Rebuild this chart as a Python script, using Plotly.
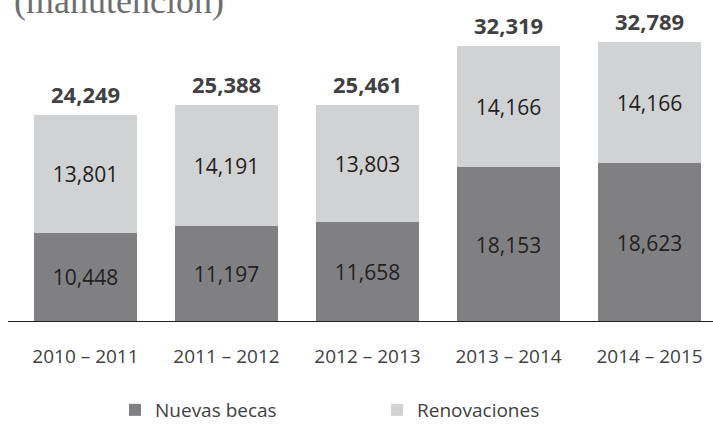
import plotly.graph_objects as go

# Ciclos escolares y becas otorgadas
ciclos = ["2010 – 2011", "2011 – 2012", "2012 – 2013", "2013 – 2014", "2014 – 2015"]
nuevas_becas = [10448, 11197, 11658, 18153, 18623]
renovaciones = [13801, 14191, 13803, 14166, 14166]
totales = [24249, 25388, 25461, 32319, 32789]

color_nuevas = "#808083"
color_renov = "#d1d2d4"
color_texto = "#231f20"
fuente = "Open Sans"

fig = go.Figure()

fig.add_trace(go.Bar(
    x=ciclos, y=nuevas_becas, name="Nuevas becas",
    marker=dict(color=color_nuevas, line=dict(width=0)),
    text=[f"{v:,}" for v in nuevas_becas], textposition="inside",
    insidetextanchor="middle",
    textfont=dict(family=fuente, size=21, color=color_texto),
))
fig.add_trace(go.Bar(
    x=ciclos, y=renovaciones, name="Renovaciones",
    marker=dict(color=color_renov, line=dict(width=0)),
    text=[f"{v:,}" for v in renovaciones], textposition="inside",
    insidetextanchor="middle",
    textfont=dict(family=fuente, size=21, color=color_texto),
))

# Totales sobre cada barra
for c, t in zip(ciclos, totales):
    fig.add_annotation(
        x=c, y=t, text=f"<b>{t:,}</b>", showarrow=False,
        yanchor="bottom", yshift=4,
        font=dict(family=fuente, size=22, color="#414042"),
    )

# Título (parcialmente visible en la parte superior)
fig.add_annotation(
    xref="paper", yref="paper", x=12 / 713, y=1 - 23 / 322,
    xanchor="left", yanchor="bottom", text="(manutención)", showarrow=False,
    font=dict(family="Liberation Serif", size=36, color="#6d6e71"),
)

# Línea base
fig.add_shape(
    type="line", xref="paper", yref="y", x0=8 / 713, x1=1, y0=0, y1=0,
    line=dict(color=color_texto, width=2),
)

fig.update_layout(
    width=713, height=428,
    margin=dict(l=0, r=0, t=0, b=106, autoexpand=False),
    barmode="stack", bargap=0.27,
    plot_bgcolor="white", paper_bgcolor="white",
    uniformtext=dict(minsize=21, mode="show"),
    showlegend=True,
    legend=dict(
        orientation="h", x=115 / 713, xanchor="left", y=-88 / 322, yanchor="middle",
        font=dict(family=fuente, size=19, color="#414042"),
        entrywidth=217, entrywidthmode="pixels", traceorder="normal",
        itemsizing="constant",
    ),
    xaxis=dict(
        range=[-0.606, 4.450], showgrid=False, zeroline=False, showline=False,
        ticks="", tickfont=dict(family=fuente, size=19, color="#414042"),
        ticklabelstandoff=21,
    ),
    yaxis=dict(
        range=[0, 37723], visible=False, showgrid=False, zeroline=False,
    ),
)

fig.write_html("out.html")
